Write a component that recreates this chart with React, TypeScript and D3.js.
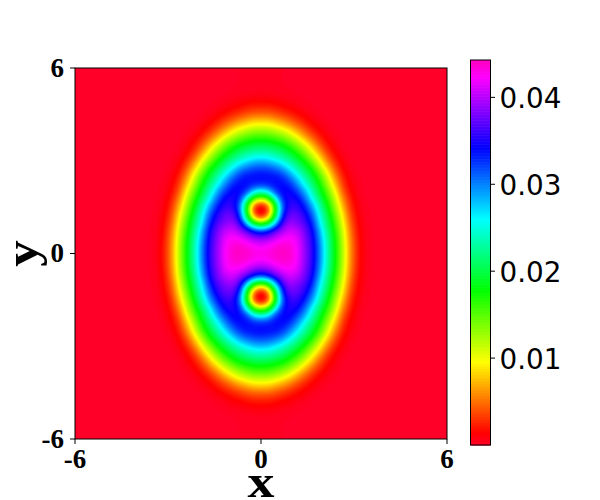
import React, { useMemo } from "react";
import * as d3 from "d3";

// Density, in units of 1e-4; upper-right quadrant (the picture mirrors it).
const xKnots = [0, 0.2, 0.35, 0.5, 0.7, 0.9, 1.15, 1.4, 1.65, 1.9, 2.15, 2.4, 2.65, 2.9, 3.15, 3.4, 3.7];
const yKnots = [0, 0.25, 0.5, 0.72, 0.91, 1.06, 1.21, 1.4, 1.56, 1.71, 1.86, 2.01, 2.22, 2.5, 2.75, 3, 3.25, 3.5, 3.75, 4, 4.25, 4.5, 4.75, 5, 5.3];
const density = [
  [430, 432, 436, 440, 442, 440, 424, 392, 357, 300, 232, 176, 116, 55, 18, 3, 0],
  [418, 422, 428, 434, 438, 436, 422, 390, 355, 299, 231, 175, 116, 55, 18, 3, 0],
  [385, 390, 398, 410, 420, 425, 418, 386, 352, 291, 227, 172, 111, 52, 16, 3, 0],
  [320, 335, 358, 378, 396, 410, 405, 380, 346, 283, 220, 165, 107, 48, 14, 3, 0],
  [190, 215, 255, 318, 375, 398, 392, 372, 336, 268, 211, 157, 100, 42, 13, 2, 0],
  [92, 125, 190, 258, 352, 385, 378, 362, 326, 260, 207, 152, 93, 38, 11, 2, 0],
  [11, 48, 130, 215, 335, 378, 378, 358, 316, 251, 198, 142, 88, 34, 10, 2, 0],
  [2, 12, 95, 195, 315, 365, 365, 343, 300, 240, 188, 133, 77, 28, 8, 1, 0],
  [9, 37, 115, 200, 315, 354, 358, 333, 285, 228, 178, 122, 68, 24, 7, 1, 0],
  [80, 108, 170, 240, 330, 352, 350, 318, 265, 215, 167, 115, 58, 21, 5, 1, 0],
  [165, 188, 231, 292, 338, 350, 340, 302, 250, 200, 155, 105, 50, 17, 4, 0, 0],
  [248, 262, 299, 330, 342, 346, 324, 288, 236, 191, 145, 93, 40, 13, 3, 0, 0],
  [328, 331, 335, 341, 342, 334, 302, 258, 217, 175, 125, 77, 30, 10, 2, 0, 0],
  [342, 341, 338, 337, 325, 303, 267, 231, 193, 154, 105, 55, 21, 6, 1, 0, 0],
  [320, 318, 313, 305, 290, 265, 234, 202, 170, 124, 80, 37, 12, 3, 0, 0, 0],
  [280, 277, 269, 260, 246, 229, 202, 174, 135, 97, 53, 22, 8, 1, 0, 0, 0],
  [236, 234, 229, 222, 211, 195, 172, 140, 105, 67, 31, 12, 3, 0, 0, 0, 0],
  [200, 198, 193, 189, 178, 163, 137, 109, 75, 40, 18, 7, 1, 0, 0, 0, 0],
  [162, 161, 157, 150, 140, 124, 102, 72, 44, 23, 9, 3, 0, 0, 0, 0, 0],
  [124, 122, 119, 112, 102, 88, 65, 42, 23, 11, 4, 1, 0, 0, 0, 0, 0],
  [85, 84, 80, 72, 63, 50, 35, 21, 11, 5, 1, 0, 0, 0, 0, 0, 0],
  [46, 45, 42, 38, 31, 25, 16, 10, 4, 1, 0, 0, 0, 0, 0, 0, 0],
  [22, 22, 21, 18, 14, 11, 7, 3, 1, 0, 0, 0, 0, 0, 0, 0, 0],
  [9, 9, 8, 7, 5, 4, 2, 1, 0, 0, 0, 0, 0, 0, 0, 0, 0],
  [2, 2, 2, 1, 1, 1, 0, 0, 0, 0, 0, 0, 0, 0, 0, 0, 0],
];
const axisTicks = [-6, 0, 6];
const colorbarTicks = [0.01, 0.02, 0.03, 0.04];
const colorMax = 0.0443;
const colorStops = [0, 0.03, 0.215, 0.4, 0.586, 0.77, 0.954, 1];
const colorValues = ["#ff0029", "#ff0000", "#ffff00", "#00ff00", "#00ffff", "#0000ff", "#ff00ff", "#ff00bf"];

const SERIF = "'Liberation Serif', serif";
const SANS = "'DejaVu Sans', sans-serif";

const x = d3.scaleLinear().domain([-6, 6]).range([75, 447]);
const y = d3.scaleLinear().domain([-6, 6]).range([439, 68]);
const cbY = d3.scaleLinear().domain([0, colorMax]).range([445, 60]);
const color = d3
  .scaleLinear<string>()
  .domain(colorStops.map((s) => s * colorMax))
  .range(colorValues)
  .interpolate(d3.interpolateRgb)
  .clamp(true);

const STEP = 0.05;
const N = Math.round(12 / STEP) + 1;

function buildBands() {
  const xi = d3.scaleLinear().domain(xKnots).range(xKnots.map((_, i) => i)).clamp(true);
  const yi = d3.scaleLinear().domain(yKnots).range(yKnots.map((_, i) => i)).clamp(true);
  const values = new Float64Array(N * N);
  for (let j = 0; j < N; j++) {
    const fy = yi(Math.abs(-6 + j * STEP));
    const j0 = Math.min(Math.floor(fy), yKnots.length - 2);
    const ty = fy - j0;
    for (let i = 0; i < N; i++) {
      const fx = xi(Math.abs(-6 + i * STEP));
      const i0 = Math.min(Math.floor(fx), xKnots.length - 2);
      const tx = fx - i0;
      const a = density[j0][i0] * (1 - tx) + density[j0][i0 + 1] * tx;
      const b = density[j0 + 1][i0] * (1 - tx) + density[j0 + 1][i0 + 1] * tx;
      values[j * N + i] = (a * (1 - ty) + b * ty) * 1e-4;
    }
  }
  d3.blur2({ data: values, width: N, height: N }, 1.2);
  const thresholds = d3.range(0.0001, colorMax, 0.0002);
  const gen = d3.contours().size([N, N]).thresholds(thresholds).smooth(true);
  const path = d3.geoPath(
    d3.geoTransform({
      point(px: number, py: number) {
        (this as any).stream.point(x(-6 + (px - 0.5) * STEP), y(-6 + (py - 0.5) * STEP));
      },
    })
  );
  return gen(values as unknown as number[]).map((c) => ({
    d: path(c as any) || "",
    fill: color(c.value + 0.0001),
  }));
}

export default function App() {
  const bands = useMemo(buildBands, []);
  const cbLevels = d3.range(0, 256).map((i) => (i / 256) * colorMax);
  const label = (v: number) => String(v);
  return (
    <svg width={600} height={500} style={{ position: "absolute", left: 0, top: 0, background: "#fff" }}>
      <defs>
        <clipPath id="plot">
          <rect x={x(-6)} y={y(6)} width={x(6) - x(-6)} height={y(-6) - y(6)} />
        </clipPath>
      </defs>
      <rect x={x(-6)} y={y(6)} width={x(6) - x(-6)} height={y(-6) - y(6)} fill={color(0)} />
      <g clipPath="url(#plot)">
        {bands.map((b, i) => (
          <path key={i} d={b.d} fill={b.fill} />
        ))}
      </g>
      <rect x={x(-6)} y={y(6)} width={x(6) - x(-6)} height={y(-6) - y(6)} fill="none" stroke="#000" strokeWidth={1} />
      {axisTicks.map((t) => (
        <g key={`x${t}`}>
          <line x1={x(t)} x2={x(t)} y1={439} y2={444} stroke="#000" strokeWidth={1} />
          <text x={x(t)} y={468} textAnchor="middle" fontFamily={SERIF} fontWeight="bold" fontSize={27}>
            {label(t)}
          </text>
        </g>
      ))}
      {axisTicks.map((t) => (
        <g key={`y${t}`}>
          <line x1={70} x2={75} y1={y(t)} y2={y(t)} stroke="#000" strokeWidth={1} />
          <text x={64} y={y(t) + 8.5} textAnchor="end" fontFamily={SERIF} fontWeight="bold" fontSize={27}>
            {label(t)}
          </text>
        </g>
      ))}
      <text
        transform="translate(261,497) scale(1.17,1)"
        textAnchor="middle"
        fontFamily={SERIF}
        fontWeight="bold"
        fontSize={46}
      >
        x
      </text>
      <text
        transform={`translate(37,${y(0)}) rotate(-90) scale(1.15,1)`}
        textAnchor="middle"
        fontFamily={SERIF}
        fontWeight="bold"
        fontSize={46}
      >
        y
      </text>
      {cbLevels.map((v, i) => (
        <rect
          key={i}
          x={470.5}
          width={20}
          y={cbY(v + colorMax / 256)}
          height={cbY(v) - cbY(v + colorMax / 256) + 0.6}
          fill={color(v)}
        />
      ))}
      <rect x={470.5} y={60} width={20} height={385} fill="none" stroke="#000" strokeWidth={1} />
      {colorbarTicks.map((t) => (
        <g key={t}>
          <line x1={490.5} x2={495} y1={cbY(t)} y2={cbY(t)} stroke="#000" strokeWidth={1} />
          <text x={499.5} y={cbY(t) + 11} fontFamily={SANS} fontSize={27.8} fill="#000">
            {d3.format(".2f")(t)}
          </text>
        </g>
      ))}
    </svg>
  );
}
